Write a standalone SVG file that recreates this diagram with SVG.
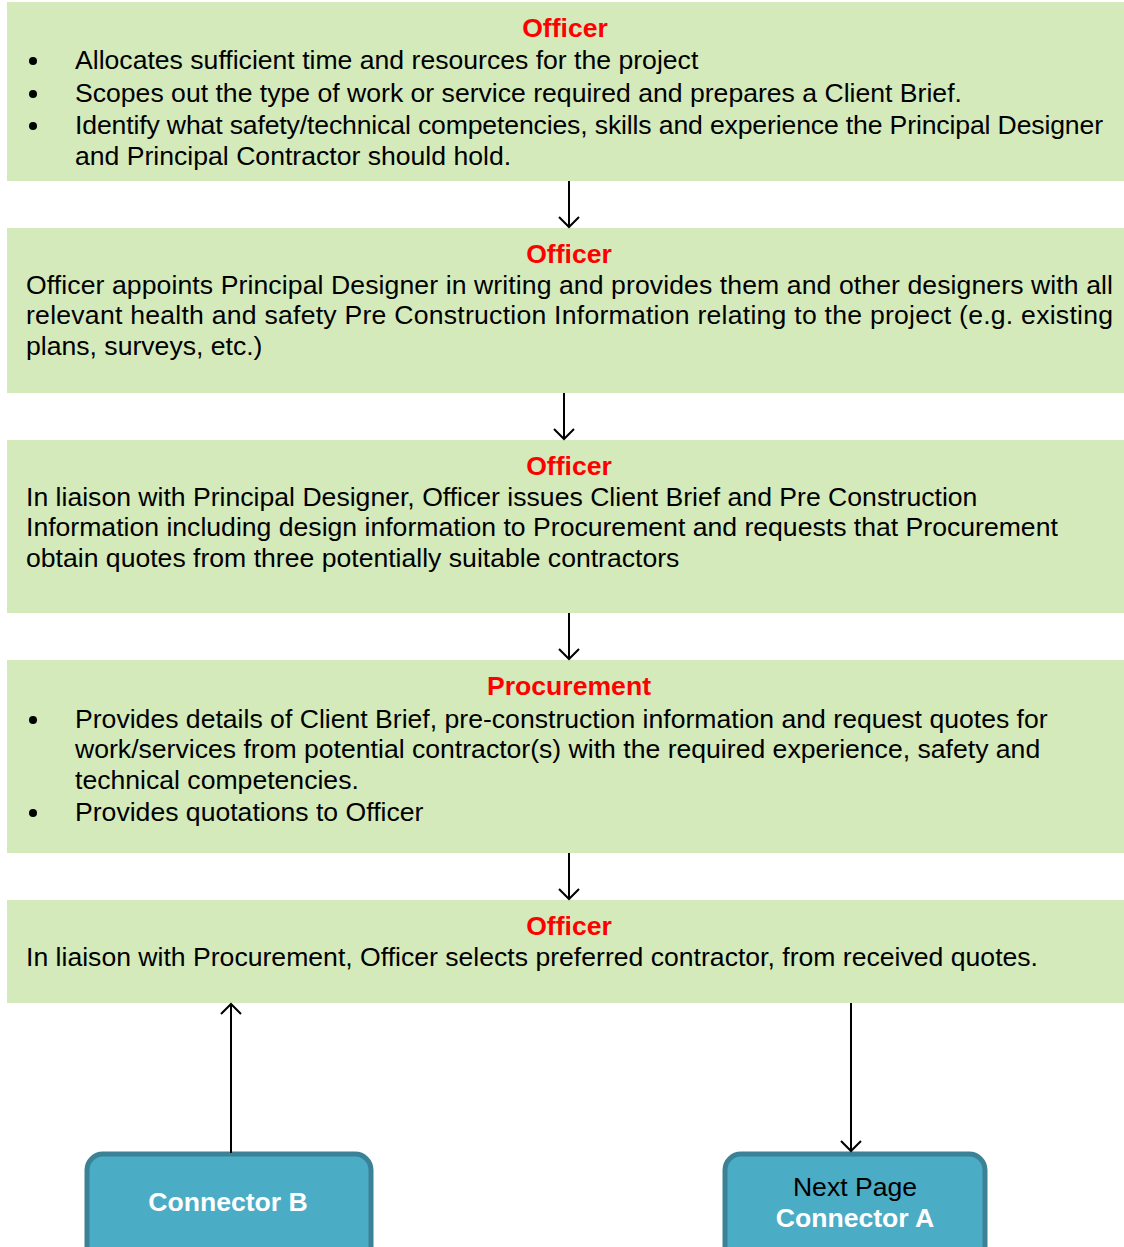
<svg xmlns="http://www.w3.org/2000/svg" width="1124" height="1247" viewBox="0 0 1124 1247">
<style>
.box{fill:#d4eabb}
.t{font-family:"Liberation Sans",Arial,sans-serif;font-size:26.6px;fill:#000}
.h{font-family:"Liberation Sans",Arial,sans-serif;font-size:26.6px;font-weight:bold;fill:#ff0000;text-anchor:middle}
.c{fill:#4bacc6;stroke:#3b8296;stroke-width:5}
.ct{font-family:"Liberation Sans",Arial,sans-serif;font-size:26.6px;font-weight:bold;fill:#fff;text-anchor:middle}
.cn{font-family:"Liberation Sans",Arial,sans-serif;font-size:26.6px;fill:#000;text-anchor:middle}
.ln{stroke:#000;stroke-width:2;fill:none}
</style>
<defs>
<marker id="ah" markerWidth="24" markerHeight="24" refX="12" refY="12" orient="auto" markerUnits="userSpaceOnUse">
<path d="M2,2 L12,12 L2,22" fill="none" stroke="#000" stroke-width="2"/>
</marker>
</defs>
<g id="node1">
<rect class="box" x="7" y="2" width="1117" height="179"/>
<text class="h" x="565" y="37">Officer</text>
<circle cx="33" cy="61" r="4"/><circle cx="33" cy="94" r="4"/><circle cx="33" cy="126" r="4"/>
<text class="t" x="75" y="69">Allocates sufficient time and resources for the project</text>
<text class="t" x="75" y="102">Scopes out the type of work or service required and prepares a Client Brief.</text>
<text class="t" x="75" y="134" textLength="1028" lengthAdjust="spacing">Identify what safety/technical competencies, skills and experience the Principal Designer</text>
<text class="t" x="75" y="165">and Principal Contractor should hold.</text>
</g>
<g id="node2">
<rect class="box" x="7" y="228" width="1117" height="165"/>
<text class="h" x="569" y="263">Officer</text>
<text class="t" x="26" y="294" textLength="1087" lengthAdjust="spacing">Officer appoints Principal Designer in writing and provides them and other designers with all</text>
<text class="t" x="26" y="324" textLength="1087" lengthAdjust="spacing">relevant health and safety Pre Construction Information relating to the project (e.g. existing</text>
<text class="t" x="26" y="355">plans, surveys, etc.)</text>
</g>
<g id="node3">
<rect class="box" x="7" y="440" width="1117" height="173"/>
<text class="h" x="569" y="475">Officer</text>
<text class="t" x="26" y="506">In liaison with Principal Designer, Officer issues Client Brief and Pre Construction</text>
<text class="t" x="26" y="536">Information including design information to Procurement and requests that Procurement</text>
<text class="t" x="26" y="567">obtain quotes from three potentially suitable contractors</text>
</g>
<g id="node4">
<rect class="box" x="7" y="660" width="1117" height="193"/>
<text class="h" x="569" y="695">Procurement</text>
<circle cx="33" cy="720" r="4"/><circle cx="33" cy="813" r="4"/>
<text class="t" x="75" y="728">Provides details of Client Brief, pre-construction information and request quotes for</text>
<text class="t" x="75" y="758">work/services from potential contractor(s) with the required experience, safety and</text>
<text class="t" x="75" y="789">technical competencies.</text>
<text class="t" x="75" y="821">Provides quotations to Officer</text>
</g>
<g id="node5">
<rect class="box" x="7" y="900" width="1117" height="103"/>
<text class="h" x="569" y="935">Officer</text>
<text class="t" x="26" y="966">In liaison with Procurement, Officer selects preferred contractor, from received quotes.</text>
</g>
<g id="connectorB">
<rect class="c" x="87" y="1154" width="284" height="110" rx="16"/>
<text class="ct" x="228" y="1211">Connector B</text>
</g>
<g id="connectorA">
<rect class="c" x="725" y="1154" width="260" height="110" rx="16"/>
<text class="cn" x="855" y="1196">Next Page</text>
<text class="ct" x="855" y="1227">Connector A</text>
</g>
<g id="connectors">
<line class="ln" x1="569" y1="181" x2="569" y2="227" marker-end="url(#ah)"/>
<line class="ln" x1="564" y1="393" x2="564" y2="439" marker-end="url(#ah)"/>
<line class="ln" x1="569" y1="613" x2="569" y2="659" marker-end="url(#ah)"/>
<line class="ln" x1="569" y1="853" x2="569" y2="899" marker-end="url(#ah)"/>
<line class="ln" x1="231" y1="1153" x2="231" y2="1004" marker-end="url(#ah)"/>
<line class="ln" x1="851" y1="1003" x2="851" y2="1151" marker-end="url(#ah)"/>
</g>
</svg>
